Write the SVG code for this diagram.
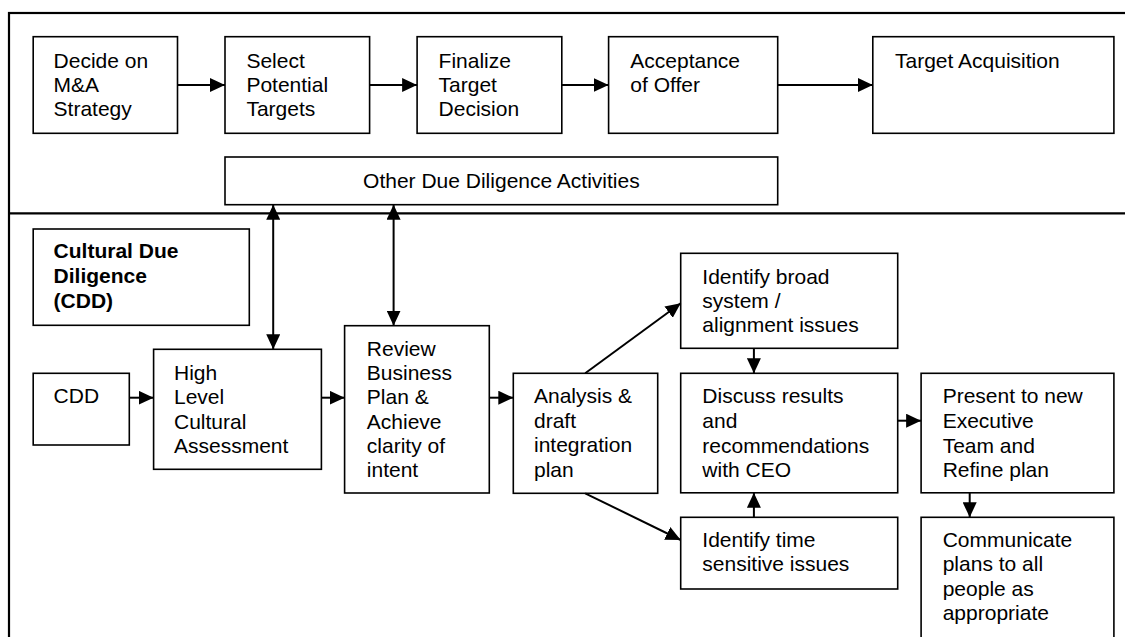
<svg xmlns="http://www.w3.org/2000/svg" width="1125" height="637" viewBox="0 0 1125 637">
<style>
.box{fill:#fff;stroke:#000;stroke-width:1.6}
.t{font-family:"Liberation Sans",Arial,sans-serif;font-size:21px;fill:#000}
.b{font-weight:bold}
.c{fill:none;stroke:#000;stroke-width:2}
.frame{fill:none;stroke:#000;stroke-width:2.2}
</style>
<defs>
<marker id="ah" markerUnits="userSpaceOnUse" markerWidth="15" markerHeight="14" refX="15" refY="7" orient="auto-start-reverse">
<path d="M0,0 L15,7 L0,14 z" fill="#000"/>
</marker>
</defs>
<rect class="frame" x="9" y="13" width="1130" height="640"/>
<line class="frame" x1="9" y1="213.3" x2="1125" y2="213.3"/>
<g id="n1"><rect class="box" x="33.2" y="36.7" width="144.3" height="96.6"/><text class="t" x="53.6" y="68.3"><tspan x="53.6">Decide on</tspan><tspan x="53.6" dy="23.8">M&amp;A</tspan><tspan x="53.6" dy="23.8">Strategy</tspan></text></g>
<g id="n2"><rect class="box" x="225" y="36.7" width="144.6" height="96.6"/><text class="t" x="246.4" y="68.3"><tspan x="246.4">Select</tspan><tspan x="246.4" dy="23.8">Potential</tspan><tspan x="246.4" dy="23.8">Targets</tspan></text></g>
<g id="n3"><rect class="box" x="417.1" y="36.7" width="144.7" height="96.6"/><text class="t" x="438.6" y="68.3"><tspan x="438.6">Finalize</tspan><tspan x="438.6" dy="23.8">Target</tspan><tspan x="438.6" dy="23.8">Decision</tspan></text></g>
<g id="n4"><rect class="box" x="608.6" y="36.7" width="169.1" height="96.6"/><text class="t" x="630.3" y="68.3"><tspan x="630.3">Acceptance</tspan><tspan x="630.3" dy="23.8">of Offer</tspan></text></g>
<g id="n5"><rect class="box" x="872.8" y="36.7" width="241.1" height="96.6"/><text class="t" x="895" y="68.3">Target Acquisition</text></g>
<g id="n6"><rect class="box" x="225" y="157" width="552.7" height="47.7"/><text class="t" x="501.4" y="188.3" text-anchor="middle">Other Due Diligence Activities</text></g>
<g id="n7"><rect class="box" x="33.2" y="229" width="216.1" height="96.3"/><text class="t b" x="53.6" y="258.3"><tspan x="53.6">Cultural Due</tspan><tspan x="53.6" dy="24.6">Diligence</tspan><tspan x="53.6" dy="24.6">(CDD)</tspan></text></g>
<g id="n8"><rect class="box" x="33.2" y="373.3" width="96.1" height="71.7"/><text class="t" x="53.6" y="403.3">CDD</text></g>
<g id="n9"><rect class="box" x="153.6" y="349.3" width="167.8" height="120"/><text class="t" x="174" y="380"><tspan x="174">High</tspan><tspan x="174" dy="24.4">Level</tspan><tspan x="174" dy="24.4">Cultural</tspan><tspan x="174" dy="24.4">Assessment</tspan></text></g>
<g id="n10"><rect class="box" x="344.6" y="325.7" width="144.7" height="167.3"/><text class="t" x="366.8" y="355.7"><tspan x="366.8">Review</tspan><tspan x="366.8" dy="24.3">Business</tspan><tspan x="366.8" dy="24.3">Plan &amp;</tspan><tspan x="366.8" dy="24.3">Achieve</tspan><tspan x="366.8" dy="24.3">clarity of</tspan><tspan x="366.8" dy="24.3">intent</tspan></text></g>
<g id="n11"><rect class="box" x="513.3" y="373.3" width="144.4" height="120"/><text class="t" x="534" y="403.3"><tspan x="534">Analysis &amp;</tspan><tspan x="534" dy="24.5">draft</tspan><tspan x="534" dy="24.5">integration</tspan><tspan x="534" dy="24.5">plan</tspan></text></g>
<g id="n12"><rect class="box" x="680.7" y="253.3" width="217" height="95"/><text class="t" x="702.3" y="284"><tspan x="702.3">Identify broad</tspan><tspan x="702.3" dy="24.2">system /</tspan><tspan x="702.3" dy="24.2">alignment issues</tspan></text></g>
<g id="n13"><rect class="box" x="680.7" y="373.3" width="217" height="119.5"/><text class="t" x="702.3" y="403.3"><tspan x="702.3">Discuss results</tspan><tspan x="702.3" dy="24.6">and</tspan><tspan x="702.3" dy="24.6">recommendations</tspan><tspan x="702.3" dy="24.6">with CEO</tspan></text></g>
<g id="n14"><rect class="box" x="921.1" y="373.3" width="192.8" height="119.5"/><text class="t" x="942.7" y="403.3"><tspan x="942.7">Present to new</tspan><tspan x="942.7" dy="24.6">Executive</tspan><tspan x="942.7" dy="24.6">Team and</tspan><tspan x="942.7" dy="24.6">Refine plan</tspan></text></g>
<g id="n15"><rect class="box" x="680.7" y="517.3" width="217" height="71.7"/><text class="t" x="702.3" y="546.7"><tspan x="702.3">Identify time</tspan><tspan x="702.3" dy="24.6">sensitive issues</tspan></text></g>
<g id="n16"><rect class="box" x="921.1" y="517.3" width="192.8" height="140"/><text class="t" x="942.7" y="546.7"><tspan x="942.7">Communicate</tspan><tspan x="942.7" dy="24.5">plans to all</tspan><tspan x="942.7" dy="24.5">people as</tspan><tspan x="942.7" dy="24.5">appropriate</tspan></text></g>
<g id="connectors">
<line class="c" x1="177.5" y1="85" x2="225" y2="85" marker-end="url(#ah)"/>
<line class="c" x1="369.6" y1="85" x2="417.1" y2="85" marker-end="url(#ah)"/>
<line class="c" x1="561.8" y1="85" x2="608.6" y2="85" marker-end="url(#ah)"/>
<line class="c" x1="777.7" y1="85" x2="872.8" y2="85" marker-end="url(#ah)"/>
<line class="c" x1="273.2" y1="204.7" x2="273.2" y2="349.3" marker-start="url(#ah)" marker-end="url(#ah)"/>
<line class="c" x1="393.6" y1="204.7" x2="393.6" y2="325.7" marker-start="url(#ah)" marker-end="url(#ah)"/>
<line class="c" x1="129.3" y1="397.7" x2="153.6" y2="397.7" marker-end="url(#ah)"/>
<line class="c" x1="321.4" y1="397.7" x2="344.6" y2="397.7" marker-end="url(#ah)"/>
<line class="c" x1="489.3" y1="397.7" x2="513.3" y2="397.7" marker-end="url(#ah)"/>
<line class="c" x1="585.2" y1="373.3" x2="680.7" y2="303.3" marker-end="url(#ah)"/>
<line class="c" x1="585.2" y1="493.3" x2="680.7" y2="540" marker-end="url(#ah)"/>
<line class="c" x1="753.9" y1="348.3" x2="753.9" y2="373.3" marker-end="url(#ah)"/>
<line class="c" x1="753.9" y1="517.3" x2="753.9" y2="492.8" marker-end="url(#ah)"/>
<line class="c" x1="897.7" y1="420.7" x2="921.1" y2="420.7" marker-end="url(#ah)"/>
<line class="c" x1="969.7" y1="492.8" x2="969.7" y2="517.3" marker-end="url(#ah)"/>
</g>
</svg>
